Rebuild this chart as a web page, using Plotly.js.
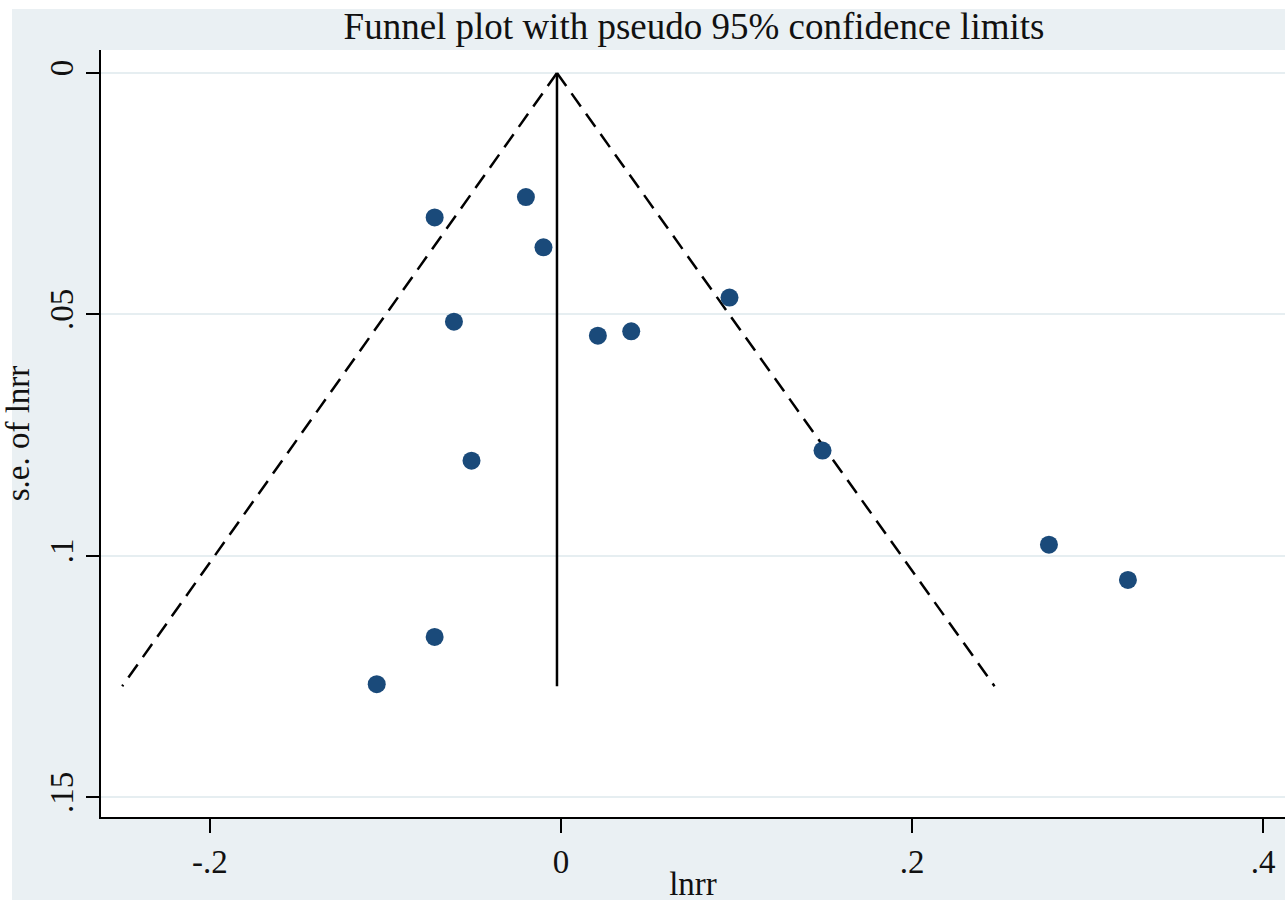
<!DOCTYPE html>
<html>
<head>
<meta charset="utf-8">
<script src="https://cdn.plot.ly/plotly-3.0.1.min.js"></script>
<style>
  html, body { margin: 0; padding: 0; background: #ffffff; width: 1285px; height: 902px; overflow: hidden; }
  #chart { position: absolute; left: 0; top: 0; width: 1285px; height: 902px; }
</style>
</head>
<body>
<div id="chart"></div>
<script>
// Study estimates (log risk ratio) and their standard errors
const lnrr = [-0.072, -0.020, -0.010, -0.061, 0.021, 0.040, 0.096, -0.051, 0.149, 0.278, 0.323, -0.072, -0.105];
const seLnrr = [0.0299, 0.0257, 0.0361, 0.0515, 0.0544, 0.0535, 0.0465, 0.0803, 0.0782, 0.0977, 0.1050, 0.1168, 0.1266];

// Pooled estimate line and pseudo 95% confidence limits
const pooledX = [-0.0023, -0.0023];
const pooledY = [0, 0.127];
const lowerLimitX = [-0.0023, -0.250];
const upperLimitX = [-0.0023, 0.247];
const limitY = [0, 0.127];

const xTickVals = [-0.2, 0, 0.2, 0.4];
const xTickText = ['-.2', '0', '.2', '.4'];
const yTickVals = [0, 0.05, 0.1, 0.15];
const yTickText = ['0', '.05', '.1', '.15'];

const serif = 'Liberation Serif, Times New Roman, serif';

const W = 1285, H = 902;
const M = { l: 101, r: 0, t: 50, b: 85 };
const plotW = W - M.l - M.r, plotH = H - M.t - M.b;
// outer graph region (Stata style light background box), in paper fractions
const boxX0 = (12 - M.l) / plotW, boxX1 = 1.01;
const boxY0 = -(900 - (H - M.b)) / plotH, boxY1 = 1 + (M.t - 9) / plotH;

const traces = [
  { x: lowerLimitX, y: limitY, mode: 'lines', type: 'scatter',
    line: { color: '#000000', width: 2.5, dash: '16px,9px' }, hoverinfo: 'skip', showlegend: false },
  { x: upperLimitX, y: limitY, mode: 'lines', type: 'scatter',
    line: { color: '#000000', width: 2.5, dash: '16px,9px' }, hoverinfo: 'skip', showlegend: false },
  { x: pooledX, y: pooledY, mode: 'lines', type: 'scatter',
    line: { color: '#000000', width: 2.5 }, hoverinfo: 'skip', showlegend: false },
  { x: lnrr, y: seLnrr, mode: 'markers', type: 'scatter',
    marker: { color: '#1a4a7a', size: 18, line: { width: 0 } }, showlegend: false, cliponaxis: false }
];

const layout = {
  width: W, height: H,
  margin: M,
  paper_bgcolor: '#ffffff',
  plot_bgcolor: '#ffffff',
  showlegend: false,
  font: { family: serif, color: '#000000', size: 33 },
  shapes: [
    { type: 'rect', xref: 'paper', yref: 'paper', layer: 'below',
      x0: boxX0, x1: boxX1, y0: boxY0, y1: boxY1,
      fillcolor: '#eaf0f3', line: { width: 0 } },
    { type: 'rect', xref: 'paper', yref: 'paper', layer: 'below',
      x0: 0, x1: 1.01, y0: 0, y1: 1,
      fillcolor: '#ffffff', line: { width: 0 } }
  ],
  title: {
    text: 'Funnel plot with pseudo 95% confidence limits',
    font: { family: serif, size: 37, color: '#111111' },
    xref: 'container', x: 694 / W, xanchor: 'center',
    yref: 'container', y: 1 - 26 / H, yanchor: 'middle'
  },
  xaxis: {
    range: [-0.2621, 0.4125],
    tickvals: xTickVals, ticktext: xTickText,
    ticks: 'outside', ticklen: 14, tickwidth: 2, tickcolor: '#000000',
    showline: true, linecolor: '#000000', linewidth: 2,
    showgrid: false, zeroline: false,
    tickfont: { family: serif, size: 33, color: '#111111' },
    title: { text: 'lnrr', font: { family: serif, size: 33, color: '#111111' }, standoff: 12 }
  },
  yaxis: {
    range: [0.1541, -0.00477],
    tickvals: yTickVals, ticktext: yTickText,
    tickangle: -90,
    ticks: 'outside', ticklen: 13, tickwidth: 2, tickcolor: '#000000',
    showline: true, linecolor: '#000000', linewidth: 2,
    showgrid: true, gridcolor: '#e6eef1', gridwidth: 2,
    zeroline: false,
    tickfont: { family: serif, size: 33, color: '#111111' },
    title: { text: 's.e. of lnrr', font: { family: serif, size: 33, color: '#111111' }, standoff: 8 }
  }
};

Plotly.newPlot('chart', traces, layout, { displayModeBar: false, staticPlot: true });
</script>
</body>
</html>
